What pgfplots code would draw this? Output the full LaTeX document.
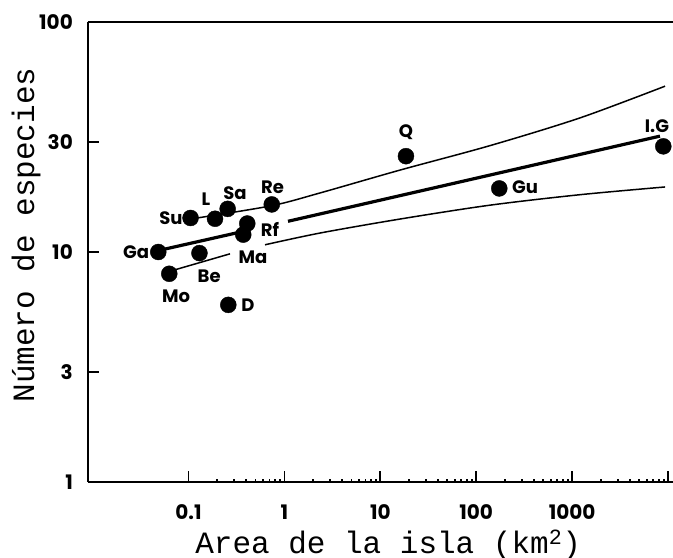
\documentclass[border=0pt]{standalone}
\usepackage{pgfplots}
\pgfplotsset{compat=1.18}
\usepackage{fontspec}
\setmainfont{Liberation Serif}
\newfontfamily\mono{Liberation Mono}
\newfontfamily\pop{Poppins}
\newcommand{\labf}{\pop\bfseries\fontsize{18bp}{20bp}\selectfont}
\newcommand{\tickf}{\pop\bfseries\fontsize{20bp}{22bp}\selectfont}
\begin{document}
\begin{tikzpicture}
\path[use as bounding box] (-88bp,-76bp) rectangle (585bp,482bp);
\begin{axis}[
  at={(0,0)}, anchor=south west,
  scale only axis, width=585bp, height=460bp,
  xmode=log, ymode=log,
  xmin=0.00895, xmax=11270, ymin=1, ymax=100,
  axis x line*=bottom, axis y line*=left,
  axis line style={-, line width=1.8bp},
  tick align=inside,
  major tick length=11bp,
  tick style={line width=1.8bp, black},
  xtick={0.1,1,10,100,1000,10000},
  xticklabels={{\tickf 0.1},{\tickf 1},{\tickf 10},{\tickf 100},{\tickf 1000},{}},
  ytick={1,3,10,30,100},
  yticklabels={{\tickf 1},{\tickf 3},{\tickf 10},{\tickf 30},{\tickf 100}},
  minor xtick={}, minor ytick={},
  xticklabel style={anchor=base, inner sep=0pt, yshift=-37bp},
  yticklabel style={anchor=east, inner sep=0pt, xshift=-15bp},
  xlabel={Area de la isla (km\textsuperscript{2})},
  ylabel={Número de especies},
  label style={font=\mono\fontsize{31bp}{34bp}\selectfont},
  xlabel style={at={(axis description cs:0.513,0)}, anchor=base, yshift=-71bp},
  ylabel style={at={(axis description cs:-0.0923,0.537)}, anchor=base},
  clip=false,
]
\draw[line width=1.8bp] (rel axis cs:0,1) -- (rel axis cs:1,1);
% regression line (two pieces, broken at the Rf label)
\addplot[black, line width=3.2bp] coordinates {(0.0569,10.3) (0.344,12.2)};
\addplot[black, line width=3.2bp] coordinates {(1.09,13.6) (8240,31.9)};
% upper confidence band
\addplot[black, line width=1.5bp, smooth] coordinates {(0.1218,14.05) (0.737,15.9) (2.35,18.06) (16.0,22.7) (139,29.0) (1210,38.3) (9310,52.6)};
% lower confidence band
\addplot[black, line width=1.5bp] coordinates {(0.0723,8.37) (0.271,9.82)};
\addplot[black, line width=1.5bp, smooth] coordinates {(0.628,10.75) (2.35,12.09) (16.05,13.91) (139,15.98) (1209,17.75) (9310,19.18)};
% islands
\addplot[only marks, mark=*, mark size=8bp, black] coordinates {
 (0.0484,10.0) (0.105,14.06) (0.189,13.95) (0.256,15.4) (0.738,16.1)
 (0.41,13.3) (0.372,11.9) (0.130,9.89) (0.063,8.04) (0.26,5.89)
 (18.5,26.1) (174,18.9) (8930,28.8)};
\node[font=\labf] at (axis cs:0.0284,9.97) {Ga};
\node[font=\labf] at (axis cs:0.0657,14.1) {Su};
\node[font=\labf] at (axis cs:0.152,16.9) {L};
\node[font=\labf] at (axis cs:0.305,18.1) {Sa};
\node[font=\labf] at (axis cs:0.752,19.2) {Re};
\node[font=\labf] at (axis cs:0.708,12.5) {Rf};
\node[font=\labf] at (axis cs:0.471,9.53) {Ma};
\node[font=\labf] at (axis cs:0.164,7.87) {Be};
\node[font=\labf] at (axis cs:0.0741,6.45) {Mo};
\node[font=\labf] at (axis cs:0.417,5.89) {D};
\node[font=\labf] at (axis cs:18.5,33.1) {Q};
\node[font=\labf] at (axis cs:323,19.2) {Gu};
\node[font=\labf] at (axis cs:7670,35.1) {I.G};
\end{axis}
\end{tikzpicture}
\end{document}
